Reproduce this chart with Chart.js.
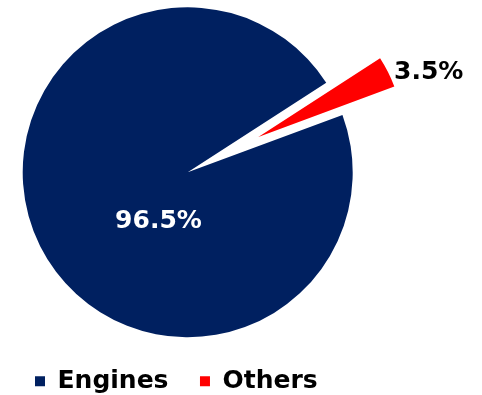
<!DOCTYPE html>
<html>
<head>
<meta charset="utf-8">
<script src="https://cdn.jsdelivr.net/npm/chart.js@4.4.0/dist/chart.umd.min.js"></script>
<style>
  html, body { margin: 0; padding: 0; background: #fff; }
  #wrap { width: 482px; height: 395px; }
</style>
</head>
<body>
<div id="wrap"><canvas id="chart"></canvas></div>
<script>
const categories = ['Engines', 'Others'];
const shares = [96.5, 3.5];
const valueLabels = ['96.5%', '3.5%'];
const sliceColors = ['#002060', '#ff0000'];

const FONT = '"DejaVu Sans", Verdana, sans-serif';

// pull the small slice out of the pie and draw it a bit smaller, like the original
const explodeSlice = {
  id: 'explodeSlice',
  afterDatasetsUpdate(chart) {
    const area = chart.chartArea;
    const arc = chart.getDatasetMeta(0).data[1];
    const mid = (arc.startAngle + arc.endAngle) / 2;
    arc.x = (area.left + area.right) / 2 + Math.cos(mid) * 79;
    arc.y = (area.top + area.bottom) / 2 + Math.sin(mid) * 79;
    arc.outerRadius = 145;
  }
};

const sliceLabels = {
  id: 'sliceLabels',
  afterDatasetsDraw(chart) {
    const ctx = chart.ctx;
    const arcs = chart.getDatasetMeta(0).data;
    ctx.save();
    ctx.font = 'bold 25px ' + FONT;
    ctx.textBaseline = 'middle';

    // big slice: label inside, lower left of the centre
    const a0 = arcs[0];
    const ang = 120.6 * Math.PI / 180;
    ctx.fillStyle = '#fff';
    ctx.textAlign = 'center';
    ctx.fillText(valueLabels[0], a0.x + Math.cos(ang) * a0.outerRadius * 0.348,
                 a0.y + Math.sin(ang) * a0.outerRadius * 0.348);

    // small slice: label just outside its outer edge
    const a1 = arcs[1];
    const mid = (a1.startAngle + a1.endAngle) / 2;
    ctx.fillStyle = '#000';
    ctx.textAlign = 'left';
    ctx.fillText(valueLabels[1], a1.x + Math.cos(mid) * a1.outerRadius + 6,
                 a1.y + Math.sin(mid) * a1.outerRadius);
    ctx.restore();
  }
};

new Chart(document.getElementById('chart'), {
  type: 'pie',
  data: {
    labels: categories,
    datasets: [{
      data: shares,
      backgroundColor: sliceColors,
      borderWidth: 0
    }]
  },
  options: {
    responsive: true,
    maintainAspectRatio: false,
    animation: false,
    events: [],
    rotation: 69.7,
    radius: 165,
    layout: { padding: { left: 3.5, right: 110.1, top: 7.3, bottom: -8.8 } },
    plugins: {
      tooltip: { enabled: false },
      legend: {
        position: 'bottom',
        align: 'start',
        labels: {
          color: '#000',
          boxWidth: 10,
          boxHeight: 10,
          padding: 31.5,
          font: { family: FONT, size: 25, weight: 'bold' }
        }
      }
    }
  },
  plugins: [explodeSlice, sliceLabels]
});
</script>
</body>
</html>
